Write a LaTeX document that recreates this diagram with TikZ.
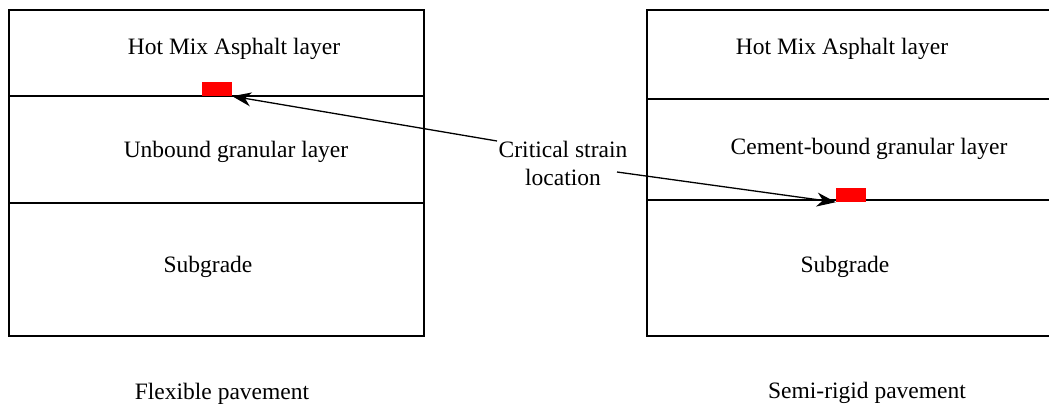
\documentclass[tikz,border=0pt]{standalone}
\usepackage{fontspec}
\setmainfont{Liberation Serif}
\usetikzlibrary{arrows.meta}
\begin{document}
\begin{tikzpicture}[x=1pt,y=-1pt,
  layer/.style={draw=black,line width=1.2pt},
  lbl/.style={font=\fontsize{23.5}{28}\selectfont,inner sep=0pt},
  strain/.style={fill=red,draw=none,minimum width=30pt,minimum height=14pt,inner sep=0pt},
  pointer/.style={line width=1.3pt,-{Stealth[length=19pt,width=14pt,inset=6pt]}}]
\useasboundingbox (0,0) rectangle (1049,407);
\clip (0,0) rectangle (1049,407);
% flexible pavement
\draw[layer] (9,10) rectangle (424,336);
\draw[layer] (9,96) -- (424,96);
\draw[layer] (9,203) -- (424,203);
\node[lbl] (hma1) at (234,49) {Hot Mix Asphalt layer};
\node[lbl] (ugl) at (236,152) {Unbound granular layer};
\node[lbl] (sg1) at (208,267) {Subgrade};
\node[lbl] (flex) at (222,394) {Flexible pavement};
\node[strain] (r1) at (217,89) {};
% semi-rigid pavement
\draw[layer] (647,10) rectangle (1060,336);
\draw[layer] (647,99) -- (1060,99);
\draw[layer] (647,200) -- (1060,200);
\node[lbl] (hma2) at (842,49) {Hot Mix Asphalt layer};
\node[lbl] (cbl) at (869,149) {Cement-bound granular layer};
\node[lbl] (sg2) at (845,267) {Subgrade};
\node[lbl] (semi) at (867,393) {Semi-rigid pavement};
\node[strain] (r2) at (851,195) {};
% label and pointers
\node[lbl,align=center] (crit) at (563,163) {Critical strain\\location};
\coordinate (s1) at (497,141);
\coordinate (s2) at (617,172);
\draw[pointer] (s1) -- (r1.south east);
\draw[pointer] (s2) -- (r2.south west);
\end{tikzpicture}
\end{document}
